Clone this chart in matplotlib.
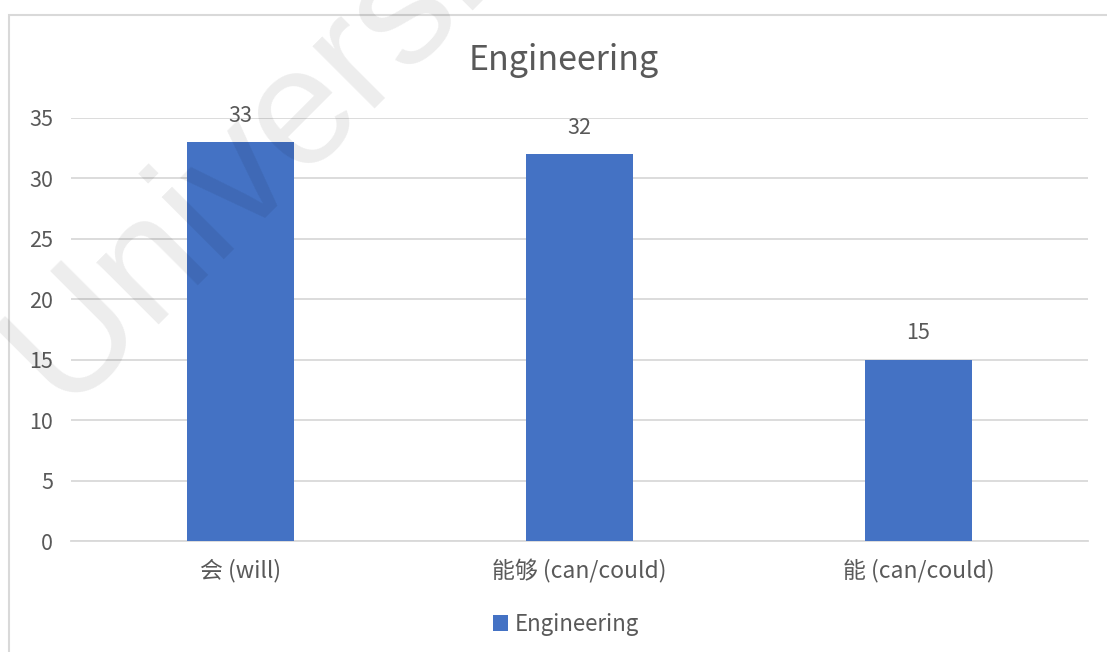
import matplotlib.pyplot as plt
from matplotlib.patches import Rectangle

plt.rcParams['font.family'] = ['Noto Sans CJK SC', 'DejaVu Sans']
plt.rcParams['font.weight'] = 'light'

categories = ['会 (will)', '能够 (can/could)', '能 (can/could)']
counts = [33, 32, 15]
series_name = 'Engineering'
y_ticks = [0, 5, 10, 15, 20, 25, 30, 35]

BAR_COLOR = '#4472c4'
TEXT_COLOR = '#595959'
GRID_COLOR = '#d9d9d9'

W, H = 1107, 652
fig = plt.figure(figsize=(W / 100, H / 100), dpi=100)

# chart frame, open to the right and bottom
fig.patches.append(Rectangle((9 / W, -0.5), 2.0, 1.5 - 15 / H,
                             transform=fig.transFigure, fill=False,
                             edgecolor=GRID_COLOR, linewidth=1.5))

ax = fig.add_axes([71 / W, 1 - 541 / H, (1088 - 71) / W, (541 - 118) / H])
x = range(len(categories))
bars = ax.bar(x, counts, width=0.313, color=BAR_COLOR, label=series_name, zorder=3)

ax.set_xlim(-0.5, len(categories) - 0.5)
ax.set_ylim(0, 35)
ax.set_yticks(y_ticks)
ax.set_xticks(list(x))
ax.set_xticklabels(categories)
ax.grid(axis='y', color=GRID_COLOR, linewidth=1.3, zorder=0)
for side in ['top', 'right', 'left']:
    ax.spines[side].set_visible(False)
ax.spines['bottom'].set_color(GRID_COLOR)
ax.spines['bottom'].set_linewidth(1.3)
ax.tick_params(axis='y', length=0, labelsize=15.5, labelcolor=TEXT_COLOR, pad=13)
ax.tick_params(axis='x', length=0, labelsize=16.5, labelcolor=TEXT_COLOR, pad=13)

for rect, v in zip(bars, counts):
    ax.annotate(str(v), (rect.get_x() + rect.get_width() / 2, v),
                xytext=(0, 19), textcoords='offset points',
                ha='center', va='center', fontsize=15.5, color=TEXT_COLOR)

fig.text(564 / W, 1 - 60 / H, series_name, ha='center', va='center',
         fontsize=24.5, color=TEXT_COLOR)

leg = ax.legend(loc='center', bbox_to_anchor=(566 / W, 1 - 624 / H),
                bbox_transform=fig.transFigure, frameon=False,
                handlelength=0.7, handleheight=0.7, handletextpad=0.3,
                prop={'size': 16})
for t in leg.get_texts():
    t.set_color(TEXT_COLOR)

# faint watermark drawn over the chart
fig.text(62 / W, 1 - 408 / H, 'University', rotation=45, rotation_mode='anchor',
         ha='left', va='baseline', fontsize=120, color='black', alpha=0.075,
         family=['Liberation Sans'], weight='normal', zorder=10)

fig.savefig('out.png', dpi=100)
